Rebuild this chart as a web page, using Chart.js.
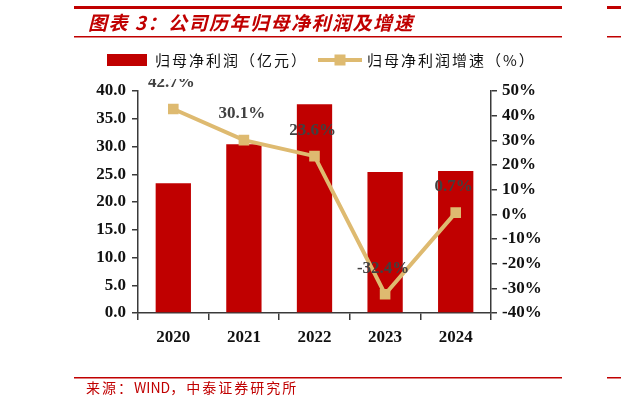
<!DOCTYPE html>
<html>
<head>
<meta charset="utf-8">
<script src="https://cdn.jsdelivr.net/npm/chart.js@4.4.1/dist/chart.umd.min.js"></script>
<style>
  html, body { margin: 0; padding: 0; background: #fff; }
  #c { display: block; }
</style>
</head>
<body>
<canvas id="c" width="621" height="409"></canvas>
<script>
// data
var years = ['2020', '2021', '2022', '2023', '2024'];
var profit = [23.4, 30.4, 37.6, 25.4, 25.6];     // 归母净利润（亿元）
var growth = [42.7, 30.1, 23.6, -32.4, 0.7];     // 归母净利润增速（%）
var profitName = '归母净利润（亿元）';
var growthName = '归母净利润增速（%）';
var titleText = '图表 3：公司历年归母净利润及增速';
var sourceParts = ['来源：', 'WIND', '，中泰证券研究所'];

var RED = '#C00000';
var TAN = '#DEBA70';
var AXIS = '#3a3a3a';
var serif = '"Liberation Serif", "Times New Roman", serif';
var cjk = '"Noto Sans CJK SC", "Noto Sans", sans-serif';

// title, red rules, footer
var decor = {
  id: 'decor',
  beforeDraw: function(chart){
    var ctx = chart.ctx;
    ctx.save();
    ctx.fillStyle = '#fff';
    ctx.fillRect(0, 0, chart.width, chart.height);
    ctx.fillStyle = RED;
    ctx.fillRect(74, 6, 488, 3);
    ctx.fillRect(607, 6, 14, 3);
    ctx.fillRect(74, 36, 488, 1.5);
    ctx.fillRect(607, 36, 14, 1.5);
    ctx.fillRect(74, 377, 488, 1.5);
    ctx.fillRect(607, 377, 14, 1.5);

    ctx.font = 'italic bold 19px ' + cjk;
    ctx.letterSpacing = '1.5px';
    ctx.textBaseline = 'middle';
    ctx.fillText(titleText, 88, 23);

    // footer: wide spacing for CJK, normal for the latin word
    ctx.font = '14px ' + cjk;
    var x = 86;
    sourceParts.forEach(function(p, i){
      ctx.letterSpacing = (i == 1) ? '0px' : '2px';
      ctx.fillText(p, x, 388);
      x += ctx.measureText(p).width;
    });
    ctx.restore();
  },
  afterDraw: function(chart){
    // legend
    var ctx = chart.ctx;
    var ds = chart.data.datasets;
    ctx.save();
    ctx.fillStyle = ds[0].backgroundColor;
    ctx.fillRect(107, 54, 40, 12);
    ctx.strokeStyle = ds[1].borderColor;
    ctx.lineWidth = 4;
    ctx.beginPath();
    ctx.moveTo(318, 60);
    ctx.lineTo(362, 60);
    ctx.stroke();
    ctx.fillStyle = ds[1].borderColor;
    ctx.fillRect(334.5, 54.5, 11, 11);
    ctx.fillStyle = '#111';
    ctx.font = '15px ' + cjk;
    ctx.letterSpacing = '2px';
    ctx.textBaseline = 'middle';
    ctx.fillText(ds[0].label, 155, 60);
    ctx.fillText(ds[1].label, 367, 60);
    ctx.restore();
  }
};

// percentage labels above the line points
var pointLabels = {
  id: 'pointLabels',
  afterDatasetsDraw: function(chart){
    var ctx = chart.ctx;
    var meta = chart.getDatasetMeta(1);
    ctx.save();
    ctx.beginPath();
    ctx.rect(0, 79, chart.width, chart.height);
    ctx.clip();
    ctx.fillStyle = '#404040';
    ctx.font = 'bold 17px ' + serif;
    ctx.textAlign = 'center';
    ctx.textBaseline = 'middle';
    meta.data.forEach(function(pt, i){
      ctx.fillText(growth[i].toFixed(1) + '%', pt.x - 2, pt.y - 26);
    });
    ctx.restore();
  }
};

new Chart(document.getElementById('c'), {
  type: 'bar',
  data: {
    labels: years,
    datasets: [{
      type: 'bar',
      label: profitName,
      data: profit,
      backgroundColor: RED,
      barPercentage: 0.5,
      categoryPercentage: 1,
      yAxisID: 'y',
      order: 2
    }, {
      type: 'line',
      label: growthName,
      data: growth,
      borderColor: TAN,
      backgroundColor: TAN,
      borderWidth: 4,
      pointStyle: 'rect',
      pointRadius: 7.5,
      pointBackgroundColor: TAN,
      pointBorderWidth: 0,
      tension: 0,
      yAxisID: 'y1',
      order: 1
    }]
  },
  options: {
    responsive: false,
    animation: false,
    devicePixelRatio: 1,
    layout: { padding: { top: 91, left: 0, right: 0, bottom: 0 } },
    plugins: {
      legend: { display: false },
      title: { display: false },
      tooltip: { enabled: false }
    },
    scales: {
      x: {
        offset: true,
        grid: { display: true, offset: true, drawOnChartArea: false, drawTicks: true, tickLength: 7, color: AXIS, lineWidth: 1.5 },
        border: { display: true, color: AXIS, width: 1.5 },
        ticks: { color: '#111', font: { family: serif, size: 17, weight: 'bold' }, padding: 7 },
        afterFit: function(s){ s.height = 96; }
      },
      y: {
        position: 'left',
        min: 0, max: 40,
        grid: { display: true, drawOnChartArea: false, drawTicks: true, tickLength: 6, color: AXIS, lineWidth: 1.5 },
        border: { display: true, color: AXIS, width: 1.5 },
        ticks: { stepSize: 5, color: '#111', font: { family: serif, size: 17, weight: 'bold' }, padding: 6,
          callback: function(v){ return Number(v).toFixed(1); } },
        afterFit: function(s){ s.width = 138; }
      },
      y1: {
        position: 'right',
        min: -40, max: 50,
        grid: { display: true, drawOnChartArea: false, drawTicks: true, tickLength: 6, color: AXIS, lineWidth: 1.5 },
        border: { display: true, color: AXIS, width: 1.5 },
        ticks: { stepSize: 10, color: '#111', font: { family: serif, size: 17, weight: 'bold' }, padding: 5,
          callback: function(v){ return v + '%'; } },
        afterFit: function(s){ s.width = 130; }
      }
    }
  },
  plugins: [decor, pointLabels]
});
</script>
</body>
</html>
